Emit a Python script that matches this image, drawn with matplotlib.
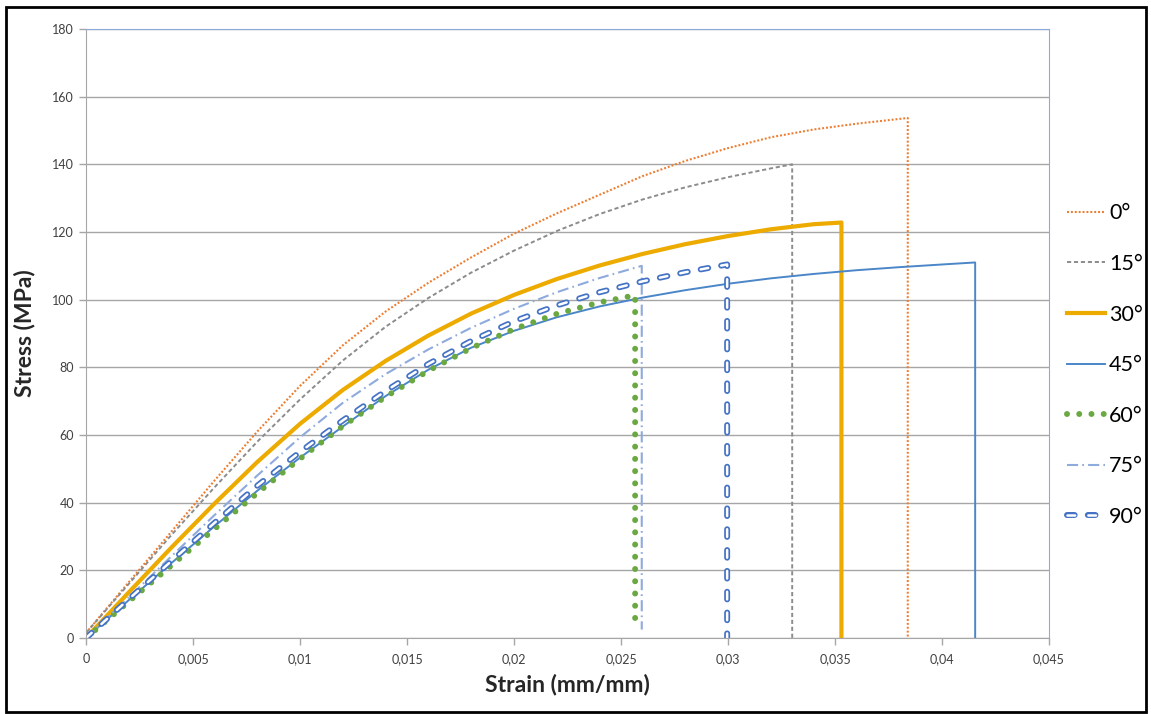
import numpy as np
import matplotlib
matplotlib.use("Agg")
import matplotlib.pyplot as plt
import matplotlib.patheffects as pe
from matplotlib.patches import Rectangle

plt.rcParams['font.family'] = ['Lato', 'DejaVu Sans']
plt.rcParams['lines.scale_dashes'] = False

# readings: strain (mm/mm) and stress (MPa)
labels = ['0°', '15°', '30°', '45°', '60°', '75°', '90°']

strain_0 = [0, 0.002, 0.004, 0.006, 0.008, 0.010, 0.012, 0.014, 0.016, 0.018, 0.020,
            0.022, 0.024, 0.026, 0.028, 0.030, 0.032, 0.034, 0.036, 0.0384, 0.0384]
stress_0 = [1.5, 16.5, 31.5, 46.5, 61, 74.5, 86.5, 96.5, 105, 112.5, 119.5,
            125.5, 131, 136.5, 141, 144.8, 148, 150.3, 152, 153.7, 0]

strain_15 = [0, 0.002, 0.004, 0.006, 0.008, 0.010, 0.012, 0.014, 0.016, 0.018, 0.020,
             0.022, 0.024, 0.026, 0.028, 0.030, 0.032, 0.033, 0.033]
stress_15 = [1.5, 16, 30.5, 44.5, 58, 70.5, 82, 92, 100.5, 108, 114.5,
             120.3, 125.3, 129.6, 133.2, 136.2, 138.8, 140, 0]

strain_30 = [0, 0.002, 0.004, 0.006, 0.008, 0.010, 0.012, 0.014, 0.016, 0.018, 0.020,
             0.022, 0.024, 0.026, 0.028, 0.030, 0.032, 0.034, 0.0353, 0.0353]
stress_30 = [0, 13.5, 26.8, 39.7, 52.0, 63.3, 73.3, 81.9, 89.4, 95.9, 101.4,
             106.1, 110.1, 113.5, 116.4, 118.8, 120.8, 122.3, 122.8, 0]

strain_45 = [0, 0.002, 0.004, 0.006, 0.008, 0.010, 0.012, 0.014, 0.016, 0.018, 0.020,
             0.022, 0.024, 0.026, 0.028, 0.030, 0.032, 0.034, 0.036, 0.038, 0.040,
             0.04155, 0.04155]
stress_45 = [0, 11.2, 22.2, 33, 43.5, 53.3, 62.5, 71.5, 79.3, 85.8, 90.8,
             94.8, 98, 100.6, 102.8, 104.7, 106.3, 107.6, 108.7, 109.6, 110.4,
             111, 0]

strain_60 = [0, 0.002, 0.004, 0.006, 0.008, 0.010, 0.012, 0.014, 0.016, 0.018, 0.020,
             0.022, 0.024, 0.02566, 0.02566]
stress_60 = [0, 10.8, 21.5, 32.2, 42.8, 53, 62.6, 71.3, 79, 85.7, 91.3,
             95.8, 99.2, 101.3, 3]

strain_75 = [0, 0.002, 0.004, 0.006, 0.008, 0.010, 0.012, 0.014, 0.016, 0.018, 0.020,
             0.022, 0.024, 0.02597, 0.02597]
stress_75 = [0, 12, 24.2, 36.3, 48, 59.3, 69.5, 78, 85.3, 91.7, 97.3,
             102.2, 106.4, 110, 2.5]

strain_90 = [0, 0.002, 0.004, 0.006, 0.008, 0.010, 0.012, 0.014, 0.016, 0.018, 0.020,
             0.022, 0.024, 0.026, 0.028, 0.02996, 0.02996]
stress_90 = [0, 11.5, 22.8, 34, 45, 55, 64.3, 73, 81, 87.8, 93.6,
             98.3, 102.2, 105.4, 108.1, 110.4, 0]

fig = plt.figure(figsize=(11.51, 7.14), dpi=100)
ax = fig.add_axes([86 / 1151, 1 - 638 / 714, (1049 - 86) / 1151, (638 - 29) / 714])

l0, = ax.plot(strain_0, stress_0, color='#ED7D31', lw=1.5, dashes=(1.4, 1.4))
l15, = ax.plot(strain_15, stress_15, color='#8C8C8C', lw=1.4, dashes=(3, 2))
l30, = ax.plot(strain_30, stress_30, color='#EDAB00', lw=3.0)
l45, = ax.plot(strain_45, stress_45, color='#4A86C8', lw=1.4)
l60, = ax.plot(strain_60, stress_60, color='#6AA842', lw=4.3, dashes=(0.01, 8.8),
               dash_capstyle='round')
l75, = ax.plot(strain_75, stress_75, color='#8FAADC', lw=1.5, dashes=(8, 3, 1.2, 3))
# hollow dashes: white core with a blue outline stroke
l90, = ax.plot(strain_90, stress_90, color='white', lw=1.8, dashes=(5.5, 9.5),
               dash_capstyle='round',
               path_effects=[pe.Stroke(linewidth=4.3, foreground='#4472C4'), pe.Normal()])

ax.set_xlim(0, 0.045)
ax.set_ylim(0, 180)
xt = np.arange(0, 0.0451, 0.005)
ax.set_xticks(xt)
ax.set_xticklabels(['0'] + [('%g' % v).replace('.', ',') for v in xt[1:]])
ax.set_yticks(np.arange(0, 181, 20))
ax.yaxis.grid(True, color='#A6A6A6', lw=1)
ax.set_axisbelow(True)
ax.tick_params(colors='#A6A6A6', labelcolor='#404040', labelsize=9, length=5, width=1)
ax.tick_params(axis='x', pad=6)

for side in ['left', 'bottom']:
    ax.spines[side].set_color('#A6A6A6')
for side in ['top', 'right']:
    ax.spines[side].set_color('#8EAADB')

ax.set_xlabel('Strain (mm/mm)', fontsize=16.5, fontweight='bold', color='#262626', labelpad=6)
ax.set_ylabel('Stress (MPa)', fontsize=16.5, fontweight='bold', color='#262626', labelpad=12)

ax.legend([l0, l15, l30, l45, l60, l75, l90], labels, loc='center left',
          bbox_to_anchor=(1.0187, 0.448), frameon=False, fontsize=15.5,
          handlelength=1.75, handletextpad=0.2, labelspacing=1.42,
          borderaxespad=0, borderpad=0)

fig.add_artist(Rectangle((6 / 1151, 2 / 714), 1140 / 1151, 705 / 714,
                         transform=fig.transFigure, fill=False, ec='black', lw=2))

fig.savefig('out.png', dpi=100)
